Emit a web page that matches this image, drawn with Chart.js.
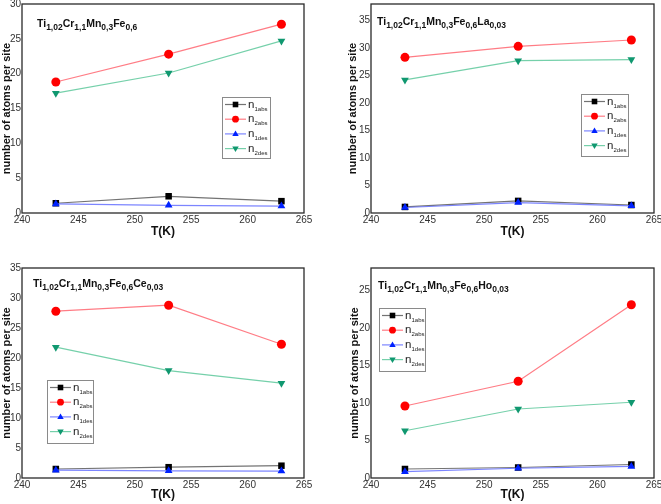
<!DOCTYPE html>
<html><head><meta charset="utf-8">
<script src="https://cdn.jsdelivr.net/npm/chart.js@4/dist/chart.umd.min.js"></script>
<style>
html,body{margin:0;padding:0;background:#fff;width:661px;height:504px;overflow:hidden;position:relative}
canvas{position:absolute}
</style></head><body>
<canvas id="c1"></canvas><canvas id="c2"></canvas><canvas id="c3"></canvas><canvas id="c4"></canvas>
<script>
// ---- data ----
const temps = [243, 253, 263];
const seriesNames = ['1abs', '2abs', '1des', '2des'];
// Panel 1: Ti1,02Cr1,1Mn0,3Fe0,6
const p1_n1abs = [1.4, 2.4, 1.7];
const p1_n2abs = [18.8, 22.8, 27.1];
const p1_n1des = [1.3, 1.1, 1.0];
const p1_n2des = [17.2, 20.1, 24.7];
// Panel 2: ... La0,03
const p2_n1abs = [1.1, 2.2, 1.45];
const p2_n2abs = [28.3, 30.3, 31.45];
const p2_n1des = [1.0, 1.9, 1.3];
const p2_n2des = [24.2, 27.7, 27.9];
// Panel 3: ... Ce0,03
const p3_n1abs = [1.5, 1.8, 2.05];
const p3_n2abs = [27.8, 28.8, 22.3];
const p3_n1des = [1.3, 1.2, 1.15];
const p3_n2des = [21.8, 17.9, 15.8];
// Panel 4: ... Ho0,03
const p4_n1abs = [1.2, 1.4, 1.8];
const p4_n2abs = [9.6, 12.9, 23.1];
const p4_n1des = [0.85, 1.3, 1.55];
const p4_n2des = [6.3, 9.2, 10.1];

const titleBase = [['Ti','1,02'],['Cr','1,1'],['Mn','0,3'],['Fe','0,6']];
const titles = [
  titleBase,
  titleBase.concat([['La','0,03']]),
  titleBase.concat([['Ce','0,03']]),
  titleBase.concat([['Ho','0,03']])
];
const xTitle = 'T(K)';
const yTitle = 'number of atoms per site';

// ---- styles ----
const styles = [
  {marker:'#000000', line:'rgba(90,90,90,0.85)', shape:'rect', rot:0, r:3.6},
  {marker:'#ff0000', line:'rgba(255,110,120,0.9)', shape:'circle', rot:0, r:4.5},
  {marker:'#0022ff', line:'rgba(110,120,255,0.9)', shape:'triangle', rot:0, r:4.5},
  {marker:'#109870', line:'rgba(110,205,165,0.95)', shape:'triangle', rot:180, r:4.5}
];

const panels = [
  {id:'c1', px:0, py:0, pw:330, ph:250, L:22, R:304, T:4, B:213, yMax:30, yTX:6, xTY:232,
   tx:37, ty:27, leg:[222,97,270,158], data:[p1_n1abs,p1_n2abs,p1_n1des,p1_n2des], title:titles[0]},
  {id:'c2', px:330, py:0, pw:331, ph:250, L:371, R:654, T:4, B:213, yMax:38, yTX:353, xTY:232,
   tx:377, ty:25, leg:[581,94,628,156], data:[p2_n1abs,p2_n2abs,p2_n1des,p2_n2des], title:titles[1]},
  {id:'c3', px:0, py:250, pw:330, ph:254, L:22, R:304, T:268, B:478, yMax:35, yTX:5, xTY:495,
   tx:33, ty:287, leg:[47,380,93,443], data:[p3_n1abs,p3_n2abs,p3_n1des,p3_n2des], title:titles[2]},
  {id:'c4', px:330, py:250, pw:331, ph:254, L:371, R:654, T:268, B:478, yMax:28, yTX:355, xTY:495,
   tx:378, ty:289, leg:[379,308,425,371], data:[p4_n1abs,p4_n2abs,p4_n1des,p4_n2des], title:titles[3]}
];

const M = 10; // margin around each canvas

function drawMarker(ctx, st, x, y, r){
  ctx.save();
  ctx.fillStyle = st.marker;
  ctx.beginPath();
  if (st.shape === 'rect') {
    ctx.rect(x - r, y - r, 2*r, 2*r);
  } else if (st.shape === 'circle') {
    ctx.arc(x, y, r, 0, Math.PI*2);
  } else {
    const s = st.rot === 180 ? -1 : 1;
    ctx.moveTo(x, y - s*r);
    ctx.lineTo(x + r*0.95, y + s*r*0.65);
    ctx.lineTo(x - r*0.95, y + s*r*0.65);
    ctx.closePath();
  }
  ctx.fill();
  ctx.restore();
}

panels.forEach(function(p){
  const cv = document.getElementById(p.id);
  const W = p.pw + 2*M, H = p.ph + 2*M;
  cv.width = W; cv.height = H;
  cv.style.width = W + 'px'; cv.style.height = H + 'px';
  cv.style.left = (p.px - M) + 'px'; cv.style.top = (p.py - M) + 'px';
  const ox = p.px - M, oy = p.py - M;

  const yAxisW = p.L - p.px;
  const xAxisH = p.py + p.ph - p.B;
  const yTitleFont = 11, xTitleFont = 12;

  const datasets = p.data.map(function(vals, i){
    const st = styles[i];
    return {
      label: 'n' + seriesNames[i],
      data: temps.map(function(t, k){ return {x: t, y: vals[k]}; }),
      borderColor: st.line,
      backgroundColor: st.marker,
      borderWidth: 1.2,
      pointStyle: st.shape,
      rotation: st.rot,
      pointRadius: st.shape === 'rect' ? 4.6 : st.r,
      pointBorderWidth: 0,
      pointBackgroundColor: st.marker,
      pointBorderColor: st.marker,
      tension: 0,
      order: [2, 3, 1, 4][i]
    };
  });

  const plugin = {
    id: 'decor_' + p.id,
    afterDraw: function(chart){
      const ctx = chart.ctx;
      const a = chart.chartArea;
      ctx.save();
      // frame
      ctx.strokeStyle = '#2a2a2a';
      ctx.lineWidth = 1.3;
      ctx.strokeRect(a.left, a.top, a.right - a.left, a.bottom - a.top);
      // title with subscripts
      let x = p.tx - ox;
      const by = p.ty - oy;
      ctx.fillStyle = '#111';
      ctx.textBaseline = 'alphabetic';
      ctx.textAlign = 'left';
      p.title.forEach(function(part){
        ctx.font = 'bold 10.5px "Liberation Sans", Arial, sans-serif';
        ctx.fillText(part[0], x, by);
        x += ctx.measureText(part[0]).width;
        ctx.font = 'bold 8.5px "Liberation Sans", Arial, sans-serif';
        ctx.fillText(part[1], x, by + 3);
        x += ctx.measureText(part[1]).width;
      });
      // legend
      const lx = p.leg[0] - ox, ly = p.leg[1] - oy;
      const lw = p.leg[2] - p.leg[0], lh = p.leg[3] - p.leg[1];
      ctx.strokeStyle = '#8a8a8a';
      ctx.lineWidth = 1;
      ctx.strokeRect(lx + 0.5, ly + 0.5, lw, lh);
      for (let i = 0; i < 4; i++) {
        const st = styles[i];
        const ry = ly + 7.5 + 14.7 * i;
        ctx.strokeStyle = st.line;
        ctx.lineWidth = 1.2;
        ctx.beginPath();
        ctx.moveTo(lx + 3, ry); ctx.lineTo(lx + 24, ry);
        ctx.stroke();
        drawMarker(ctx, st, lx + 13.5, ry, st.shape === 'rect' ? 2.8 : 3.4);
        ctx.fillStyle = '#222';
        ctx.font = '11.5px "Liberation Sans", Arial, sans-serif';
        ctx.fillText('n', lx + 26, ry + 3);
        ctx.font = '6px "Liberation Sans", Arial, sans-serif';
        ctx.fillText(seriesNames[i], lx + 32.5, ry + 6);
      }
      ctx.restore();
    }
  };

  new Chart(cv, {
    type: 'line',
    data: {datasets: datasets},
    options: {
      responsive: false,
      animation: false,
      devicePixelRatio: 1,
      layout: {padding: {left: M, top: M + (p.T - p.py), right: M + (p.px + p.pw - p.R), bottom: M}},
      plugins: {legend: {display: false}, tooltip: {enabled: false}, title: {display: false}},
      scales: {
        x: {
          type: 'linear', min: 240, max: 265,
          grid: {display: false, drawTicks: false},
          border: {display: false},
          ticks: {stepSize: 5, autoSkip: false, maxRotation: 0, padding: 1, color: '#333',
                  font: {family: '"Liberation Sans", Arial, sans-serif', size: 10}},
          title: {display: true, text: xTitle, color: '#111',
                  font: {family: '"Liberation Sans", Arial, sans-serif', size: xTitleFont, weight: 'bold'},
                  padding: {top: 0, bottom: Math.max(0, (p.py + p.ph - p.xTY) - xTitleFont*1.2/2)}},
          afterFit: function(s){ s.height = xAxisH; }
        },
        y: {
          type: 'linear', min: 0, max: p.yMax,
          grid: {display: false, drawTicks: false},
          border: {display: false},
          ticks: {stepSize: 5, includeBounds: false, padding: 1, color: '#333',
                  font: {family: '"Liberation Sans", Arial, sans-serif', size: 10}},
          title: {display: true, text: yTitle, color: '#111',
                  font: {family: '"Liberation Sans", Arial, sans-serif', size: yTitleFont, weight: 'bold'},
                  padding: {top: Math.max(0, (p.yTX - p.px) - yTitleFont*1.2/2), bottom: 0}},
          afterFit: function(s){ s.width = yAxisW; }
        }
      }
    },
    plugins: [plugin]
  });
});
</script>
</body></html>
